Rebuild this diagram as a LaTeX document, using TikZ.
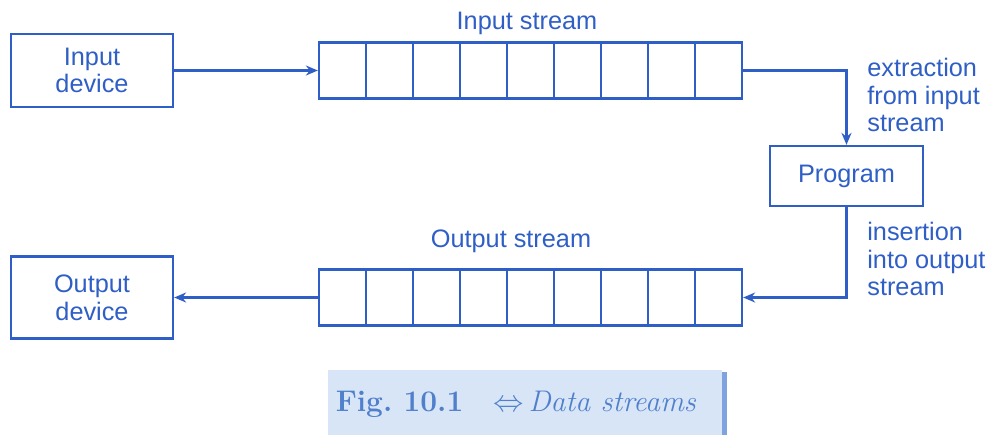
\documentclass[tikz,border=0pt]{standalone}
\usepackage{fontspec}
\setsansfont{Liberation Sans}
\usepackage{xcolor}
\definecolor{streamBlue}{HTML}{2F5FC6}
\definecolor{captionBlue}{HTML}{5080CC}
\definecolor{captionFill}{HTML}{D8E5F7}
\definecolor{captionBar}{HTML}{7FA3DE}
\usepackage{tikz}
\usetikzlibrary{arrows.meta,positioning,calc}

\tikzset{
  box/.style={draw=streamBlue, line width=1.3pt, rectangle, inner sep=0pt,
              text=streamBlue, font=\sffamily\fontsize{14.4}{15.8}\selectfont, align=center},
  device/.style={box, minimum width=3.24cm},
  cell/.style={draw=streamBlue, line width=1.3pt, rectangle, inner sep=0pt,
               minimum width=0.94cm, minimum height=1.12cm},
  label/.style={text=streamBlue, font=\sffamily\fontsize{14.4}{15.8}\selectfont, inner sep=0pt},
  flow/.style={draw=streamBlue, line width=1.2pt, -{Stealth[length=2.4mm, width=2mm]}},
}

\begin{document}
\begin{tikzpicture}[x=0.02cm, y=-0.02cm]

    \useasboundingbox (0,0) rectangle (987,437);

    % Devices
    \node[device, minimum height=1.46cm] (indev) at (92,70.5) {Input\\device};
    \node[device, minimum height=1.64cm] (outdev) at (92,297.5) {Output\\device};

    % Program
    \node[box, minimum width=3.06cm, minimum height=1.2cm] (prog) at (846.5,176) {Program};

    % Input stream cells
    \foreach \i in {1,...,9} {
        \node[cell] (in\i) at (342.5+47*\i-47, 70.5) {};
    }
    \node[label] (inlabel) at (527,23) {Input stream};

    % Output stream cells
    \foreach \i in {1,...,9} {
        \node[cell] (out\i) at (342.5+47*\i-47, 297.5) {};
    }
    \node[label] (outlabel) at (511,241) {Output stream};

    % Side notes
    \node[label, anchor=west, align=left] (extract) at (867,95) {extraction\\from input\\stream};
    \node[label, anchor=west, align=left] (insert) at (867,259) {insertion\\into output\\stream};

    % Data flow
    \draw[flow] (indev.east) -- (in1.west);
    \draw[flow] (in9.east) -| (prog.north);
    \draw[flow] (prog.south) |- (out9.east);
    \draw[flow] (out1.west) -- (outdev.east);

    % Caption
    \fill[captionFill] (328,370) rectangle (722,435);
    \fill[captionBar] (722,372) rectangle (727,435);
    \node[text=captionBlue, font=\fontsize{17}{20}\selectfont] (caption) at (516,404)
        {\textbf{Fig.\ 10.1}\quad$\Leftrightarrow$\,\textit{Data streams}};

\end{tikzpicture}
\end{document}
